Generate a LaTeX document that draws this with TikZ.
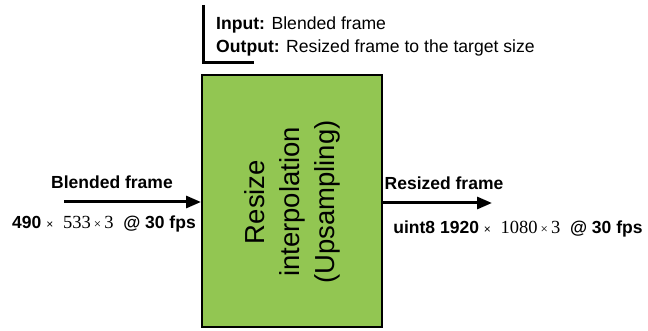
\documentclass[tikz,border=0pt]{standalone}
\usepackage{fontspec}
\setmainfont{Liberation Sans}
\newfontfamily\serifnum{Liberation Serif}
\usetikzlibrary{arrows.meta}
\definecolor{boxgreen}{RGB}{146,198,82}
\begin{document}
\begin{tikzpicture}[x=1pt,y=-1pt,
  lbl/.style={font=\fontsize{17.5}{21}\selectfont\bfseries, inner sep=0pt},
  dims/.style={font=\fontsize{17.5}{21}\selectfont\bfseries, inner sep=0pt},
  flow/.style={line width=3pt, -{Triangle[length=15pt,width=12pt]}}]
\useasboundingbox (0,0) rectangle (648,331);
\node[draw, line width=2pt, fill=boxgreen, minimum width=180pt, minimum height=252pt, inner sep=0pt] (box) at (292,201) {};
\node[rotate=90, align=center, font=\fontsize{27.5}{35}\selectfont, inner sep=0pt] (boxtext) at (292,202) {Resize\\interpolation\\(Upsampling)};
\draw[line width=3pt] (203,5) -- (203,63) -- (254,63);
\node[anchor=west, align=left, inner sep=0pt, font=\fontsize{17.6}{23}\selectfont] (io) at (216,36) {\textbf{Input:} Blended frame\\\textbf{Output:} Resized frame to the target size};
\coordinate (lin) at (64,202);
\coordinate (rout) at (492,203);
\draw[flow] (lin) -- (lin -| box.west);
\draw[flow] (box.east |- rout) -- (rout);
\node[lbl] (inlbl) at (112,182) {Blended frame};
\node[lbl] (outlbl) at (444,183) {Resized frame};
\node[dims] (indim) at (104,224) {490 {\fontsize{12}{12}\selectfont\mdseries×}\ \ {\serifnum\mdseries\fontsize{18.5}{21}\selectfont 533\,{\fontsize{13}{13}\selectfont×}\,3}\ \ @ 30 fps};
\node[dims] (outdim) at (518,229) {uint8 1920 {\fontsize{12}{12}\selectfont\mdseries×}\ \ {\serifnum\mdseries\fontsize{18.5}{21}\selectfont 1080\,{\fontsize{13}{13}\selectfont×}\,3}\ \ @ 30 fps};
\end{tikzpicture}
\end{document}
